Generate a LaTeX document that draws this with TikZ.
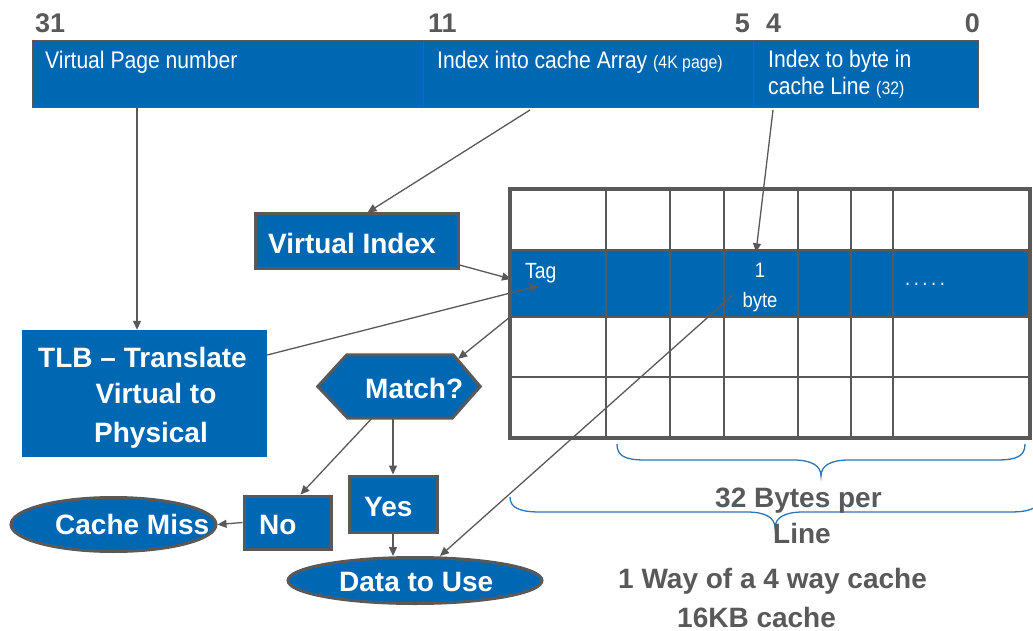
\documentclass[tikz,border=0pt]{standalone}
\usepackage{fontspec}
\setmainfont{Liberation Sans}
\newfontfamily\narrowfont{Liberation Sans}[FakeStretch=0.88]
\usetikzlibrary{arrows.meta,shapes.geometric}
\definecolor{cblue}{RGB}{0,103,178}
\definecolor{cgray}{RGB}{89,89,89}
\definecolor{bracecol}{RGB}{46,117,182}

\begin{document}
\begin{tikzpicture}[x=1pt,y=-1pt,
  field/.style={draw=cgray,line width=1.2pt,fill=cblue,minimum height=67pt,inner sep=0pt,anchor=north west},
  ftext/.style={text=white,font=\narrowfont\fontsize{24}{28}\selectfont,inner sep=0pt,anchor=base west},
  btext/.style={text=white,font=\bfseries\fontsize{28}{34}\selectfont,inner sep=0pt,anchor=base west},
  gtext/.style={text=cgray,font=\bfseries\fontsize{28}{34}\selectfont,inner sep=0pt,anchor=base west},
  bits/.style={text=cgray,font=\bfseries\fontsize{27}{32}\selectfont,inner sep=0pt},
  celltext/.style={text=white,font=\narrowfont\fontsize{21}{24}\selectfont,inner sep=0pt},
  boxed/.style={draw=cgray,line width=3pt,fill=cblue,inner sep=0pt},
  plainbox/.style={fill=cblue,inner sep=0pt},
  oval/.style={ellipse,draw=cgray,line width=3pt,fill=cblue,inner sep=0pt},
  arr/.style={draw=cgray,line width=1.3pt,-{Triangle[length=9pt,width=8pt]}},
  gridthin/.style={draw=cgray,line width=1.8pt},
  gridthick/.style={draw=cgray,line width=4pt},
  brace/.style={draw=bracecol,line width=1.3pt}
]
\useasboundingbox (0,0) rectangle (1033,631);

% bit positions
\node[bits,anchor=base west] (b31) at (35,33) {31};
\node[bits,anchor=base west] (b11) at (428,33) {11};
\node[bits,anchor=base east] (b5) at (750,33) {5};
\node[bits,anchor=base west] (b4) at (766,33) {4};
\node[bits,anchor=base east] (b0) at (980,33) {0};

% address fields
\node[field,minimum width=391pt] (vpn) at (32,40) {};
\node[field,minimum width=330pt] (idx) at (423,40) {};
\node[field,minimum width=225pt] (off) at (753,40) {};
\node[ftext] (vpnt) at (45,69) {Virtual Page number};
\node[ftext] (idxt) at (437,69) {Index into cache Array {\fontsize{18}{20}\selectfont(4K page)}};
\node[ftext] (offt1) at (768,68) {Index to byte in};
\node[ftext] (offt2) at (768,95) {cache Line {\fontsize{18}{20}\selectfont(32)}};

% cache array
\fill[cblue] (510,250) rectangle (1030,317);
\foreach \yy in {250,317,377} \draw[gridthin] (510,\yy) -- (1030,\yy);
\foreach \xx in {606,670,724,798,851,893} \draw[gridthin] (\xx,189) -- (\xx,438);
\draw[gridthick] (510,189) rectangle (1030,438);
\node[celltext,anchor=base west,font=\narrowfont\fontsize{22}{24}\selectfont] (tag) at (525,278) {Tag};
\node[celltext,anchor=base] (one) at (760,277) {1};
\node[celltext,anchor=base] (byte) at (760,307) {byte};
\node[celltext,anchor=base west] (dots) at (905,285) {.\,.\,.\,.\,.};
\coordinate (tagin) at (511,279);
\coordinate (rowout) at (510,317);

% braces
\draw[brace] (617,444) .. controls (617,456) and (625,460) .. (645,460) -- (793,460)
  .. controls (812,460) and (821,466) .. (821,476)
  .. controls (821,466) and (830,460) .. (849,460) -- (997,460)
  .. controls (1017,460) and (1025,456) .. (1025,444);
\draw[brace] (510,497) .. controls (510,508) and (520,512) .. (540,512) -- (747,512)
  .. controls (766,512) and (775,518) .. (775,528)
  .. controls (775,518) and (784,512) .. (803,512) -- (1010,512)
  .. controls (1030,512) and (1040,508) .. (1040,497);

% flow boxes
\node[plainbox,minimum width=245pt,minimum height=127pt] (tlb) at (144.5,393.5) {};
\node[btext,anchor=base] (tlbA) at (142.5,367) {TLB – Translate};
\node[btext,anchor=base] (tlbB) at (156,403) {Virtual to};
\node[btext,anchor=base] (tlbC) at (151,442) {Physical};

\node[boxed,minimum width=203pt,minimum height=54pt] (vidx) at (356.5,241) {};
\node[btext] (vidxt) at (268,253) {Virtual Index};

\node[minimum width=162pt,minimum height=63pt,inner sep=0pt] (match) at (399,386.5) {};
\draw[draw=cgray,line width=3pt,fill=cblue,line join=miter]
  (match.west) -- ([xshift=29pt]match.north west) -- ([xshift=-27pt]match.north east)
  -- (match.east) -- ([xshift=-28pt]match.south east) -- ([xshift=30pt]match.south west) -- cycle;
\node[btext] (matcht) at (365,398) {Match?};

\node[boxed,minimum width=87pt,minimum height=53pt] (nobox) at (287.5,522.5) {};
\node[btext] (not) at (259,534) {No};
\node[boxed,minimum width=88pt,minimum height=56pt] (yesbox) at (393,504) {};
\node[btext] (yest) at (364,516) {Yes};

\node[oval,minimum width=205pt,minimum height=54pt] (miss) at (113.5,524.5) {};
\node[btext] (misst) at (55,534) {Cache Miss};
\node[oval,minimum width=254pt,minimum height=46pt] (data) at (415,580.5) {};
\node[btext] (datat) at (339,591) {Data to Use};

% captions
\node[gtext] (cap1) at (715,507) {32 Bytes per};
\node[gtext] (cap2) at (773,543) {Line};
\node[gtext] (cap3) at (618,588) {1 Way of a 4 way cache};
\node[gtext] (cap4) at (677,627) {16KB cache};

% connectors
\coordinate (vpnout) at (137,107);
\coordinate (idxout) at (530,110);
\coordinate (offout) at (773,110);
\draw[arr] (vpnout) -- (vpnout |- tlb.north);
\draw[arr] (idxout) -- ([xshift=11pt]vidx.north);
\draw[arr] ([yshift=-24pt]vidx.east) -- (tagin);
\draw[arr] ([yshift=38.5pt]tlb.east) -- ([xshift=-2pt,yshift=-3pt]tag.south);
\draw[arr] (rowout) -- ([xshift=-22pt,yshift=-4pt]match.north east);
\draw[arr] (offout) -- ([xshift=-4pt,yshift=10pt]one.north);
\draw[arr] ([xshift=-27pt]match.south) -- ([xshift=13pt]nobox.north);
\draw[arr] (match.south -| yesbox.north) -- (yesbox.north);
\draw[arr] (nobox.west) -- (miss.east);
\draw[arr] (yesbox.south) -- (yesbox.south |- data.north);
\draw[arr] ([xshift=-9pt,yshift=7pt]byte.west) -- ([xshift=25pt]data.north);
\end{tikzpicture}
\end{document}
